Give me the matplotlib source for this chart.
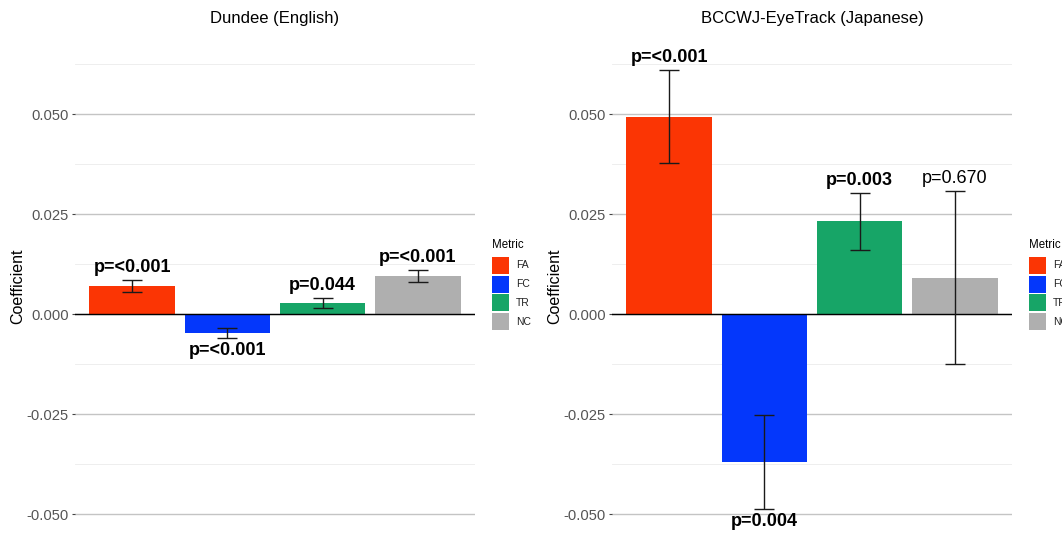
import matplotlib
matplotlib.use("Agg")
import matplotlib.pyplot as plt
from matplotlib.patches import Rectangle
import numpy as np

plt.rcParams['font.family'] = ['Liberation Sans', 'DejaVu Sans']

metrics = ["FA", "FC", "TR", "NC"]
colors = ["#FB3504", "#0437FB", "#17A567", "#AFAFAF"]

titles = ["Dundee (English)", "BCCWJ-EyeTrack (Japanese)"]
dundee_coef = [0.0070, -0.00475, 0.00275, 0.0095]
dundee_lo = [0.0055, -0.0060, 0.0015, 0.0080]
dundee_hi = [0.0085, -0.0035, 0.0040, 0.0110]
dundee_p = ["p=<0.001", "p=<0.001", "p=0.044", "p=<0.001"]
dundee_sig = [True, True, True, True]

bccwj_coef = [0.04925, -0.0370, 0.02325, 0.0090]
bccwj_lo = [0.03775, -0.04875, 0.0160, -0.0125]
bccwj_hi = [0.0610, -0.02525, 0.03025, 0.03075]
bccwj_p = ["p=<0.001", "p=0.004", "p=0.003", "p=0.670"]
bccwj_sig = [True, True, True, False]

yticks = [-0.050, -0.025, 0.000, 0.025, 0.050]
yticklabels = ["-0.050", "-0.025", "0.000", "0.025", "0.050"]
minor_ticks = [-0.0375, -0.0125, 0.0125, 0.0375, 0.0625]

W, H = 1062, 533
fig = plt.figure(figsize=(W / 100, H / 100), dpi=100)

panels = [
    (dundee_coef, dundee_lo, dundee_hi, dundee_p, dundee_sig),
    (bccwj_coef, bccwj_lo, bccwj_hi, bccwj_p, bccwj_sig),
]
ax_left_px = [75, 612]
legend_x_px = [492, 1029]
ylim = (-0.0520, 0.0660)
ax_bottom_px, ax_h_px = 522, 472

for i, (coef, lo, hi, pl, sig) in enumerate(panels):
    ax = fig.add_axes([ax_left_px[i] / W, 1 - ax_bottom_px / H, 400 / W, ax_h_px / H])
    x = np.arange(1, len(metrics) + 1)
    for m in minor_ticks:
        ax.axhline(m, color="#EBEBEB", lw=0.6, zorder=0)
    for t in yticks:
        ax.axhline(t, color="#C4C4C4", lw=1.0, zorder=0)
    ax.bar(x, coef, width=0.9, color=colors, zorder=2)
    ax.axhline(0, color="black", lw=1.0, zorder=3)
    ax.errorbar(x, coef, yerr=[np.array(coef) - np.array(lo), np.array(hi) - np.array(coef)],
                fmt="none", ecolor="#1A1A1A", elinewidth=1.0, capsize=7, capthick=1.0, zorder=4)
    for xi, c, l, h, p, s in zip(x, coef, lo, hi, pl, sig):
        if c >= 0:
            ax.annotate(p, (xi, h), xytext=(0, 3), textcoords="offset points",
                        ha="center", va="bottom", fontsize=13,
                        fontweight="bold" if s else "normal", color="black", zorder=5)
        else:
            ax.annotate(p, (xi, l), xytext=(0, -3), textcoords="offset points",
                        ha="center", va="top", fontsize=13,
                        fontweight="bold" if s else "normal", color="black", zorder=5)
    ax.set_xlim(0.4, 4.6)
    ax.set_ylim(*ylim)
    ax.set_yticks(yticks)
    ax.set_yticklabels(yticklabels, fontsize=10.6, color="#555555")
    ax.set_xticks([])
    ax.tick_params(axis="y", length=2.5, color="#444444", pad=2)
    for s in ax.spines.values():
        s.set_visible(False)
    ax.set_ylabel("Coefficient", fontsize=11.5)
    ax.yaxis.set_label_coords(-50 / 400, 0.5)
    ax.set_title(titles[i], fontsize=12, pad=0,
                 y=(1 - 18 / H - (1 - ax_bottom_px / H)) / (ax_h_px / H), va="center")
    ax.patch.set_alpha(0)

    # legend
    lx = legend_x_px[i]
    fig.text(lx / W, 1 - 245 / H, "Metric", fontsize=8.3, ha="left", va="center", color="black")
    for k, (m, c) in enumerate(zip(metrics, colors)):
        top = 257 + k * 18.7
        fig.add_artist(Rectangle((lx / W, 1 - (top + 17) / H), 17 / W, 17 / H,
                                 transform=fig.transFigure, facecolor=c, edgecolor="none"))
        fig.text((lx + 24) / W, 1 - (top + 8.5) / H, m, fontsize=7.5, ha="left", va="center",
                 color="#222222")

fig.savefig("out.png", dpi=100)
